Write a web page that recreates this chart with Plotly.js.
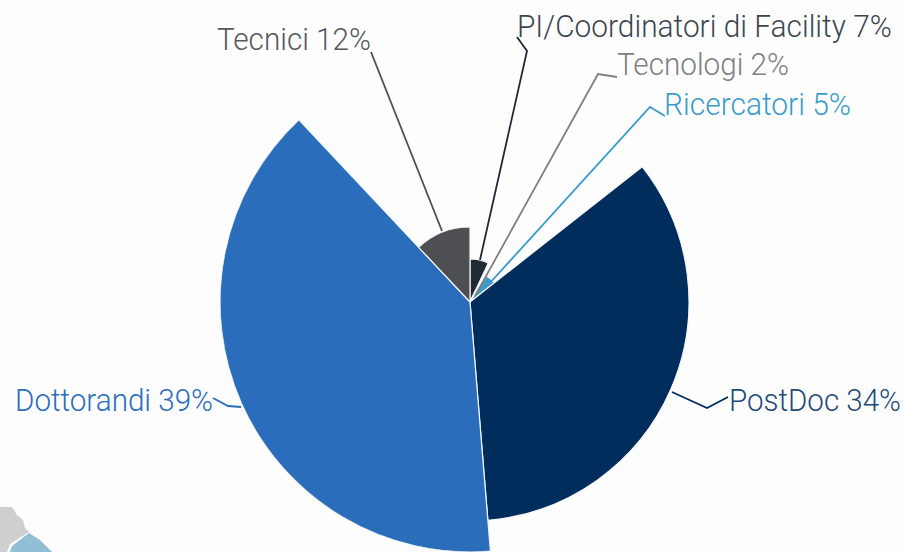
<!DOCTYPE html>
<html><head><meta charset="utf-8">
<script src="https://cdn.plot.ly/plotly-3.0.1.min.js"></script>
<style>html,body{margin:0;padding:0;background:#fdfdfd;overflow:hidden}#c{width:906px;height:552px}</style>
</head><body><div id="c"></div>
<script>
const categories=["PI/Coordinatori di Facility","Tecnologi","Ricercatori","PostDoc","Dottorandi","Tecnici"];
const percents=[7,2,5,34,39,12];
const shares=[7,2,5.4,34.3,39.3,12];
const radii=[43,12,31,219,250,75];
const colors=["#1f2a36","#808080","#3a9bcb","#002d5c","#2a6ebb","#4d4f53"];
const textColors=["#3c4650","#808080","#3a9bcb","#1d4a78","#2a6ebb","#55585c"];
const W=906,H=552;
const px=x=>x/W, py=y=>1-y/H;
// label anchors: [x, y, textWidth]
const labelBoxes=[[516,26,375],[616,64,172],[663,104,187],[728,400,172],[14,400,198],[216,39,154]];
const leaders=[
 [[517,37],[527,51],[480,260]],
 [[617,77],[598,74],[475,296]],
 [[665,116],[650,107],[489,284]],
 [[672,392],[707,408],[728,397]],
 [[213,398],[228,406],[241,407]],
 [[371,52],[442,231]]
];
const total=shares.reduce((a,b)=>a+b,0);
const widths=shares.map(p=>p/total*360);
let acc=0; const thetas=widths.map(w=>{const t=acc+w/2;acc+=w;return t;});
const path=pts=>'M'+pts.map(p=>px(p[0])+','+py(p[1])).join('L');
const shapes=leaders.map((l,i)=>({type:'path',xref:'paper',yref:'paper',path:path(l),line:{color:colors[i],width:1.8}}));
const mapGrey=[[0,507],[12,507],[17,515],[23,520],[25,528],[29,532],[10,544],[7,552],[0,552]];
const mapBlue=[[10,552],[12,546],[29,533],[40,540],[52,552]];
shapes.unshift({type:'path',xref:'paper',yref:'paper',path:path(mapGrey)+'Z',fillcolor:'#cfcfcf',line:{width:0},layer:'below'});
shapes.unshift({type:'path',xref:'paper',yref:'paper',path:path(mapBlue)+'Z',fillcolor:'#92bfd8',line:{width:0},layer:'below'});
const annotations=categories.map((c,i)=>({xref:'paper',yref:'paper',x:px(labelBoxes[i][0]),y:py(labelBoxes[i][1]),xanchor:'left',yanchor:'middle',
 text:c+' '+percents[i]+'%',showarrow:false,borderpad:0,font:{family:'Roboto',size:32,weight:300,color:textColors[i]}}));
Plotly.newPlot('c',[{type:'barpolar',theta:thetas,width:widths,r:radii,marker:{color:colors,line:{color:'#f4f4f4',width:1.2}},hoverinfo:'skip'}],{
 width:W,height:H,margin:{l:0,r:0,t:0,b:0},paper_bgcolor:'#fdfdfd',showlegend:false,
 polar:{domain:{x:[220/W,720/W],y:[0,500/H]},bgcolor:'rgba(0,0,0,0)',
  radialaxis:{visible:false,range:[0,250]},
  angularaxis:{visible:false,direction:'clockwise',rotation:90}},
 shapes,annotations
},{staticPlot:true}).then(()=>{
 document.querySelectorAll('.annotation-text').forEach((t,i)=>{
  const w=t.getComputedTextLength();
  const x0=parseFloat(t.getAttribute('x'))||0;
  const xl=x0-w/2, s=labelBoxes[i][2]/w;
  t.setAttribute('x',xl);
  t.setAttribute('text-anchor','start');t.style.textAnchor='start';
  t.setAttribute('transform','translate('+(xl*(1-s))+',0) scale('+s+',1)');
 });
});
</script></body></html>
